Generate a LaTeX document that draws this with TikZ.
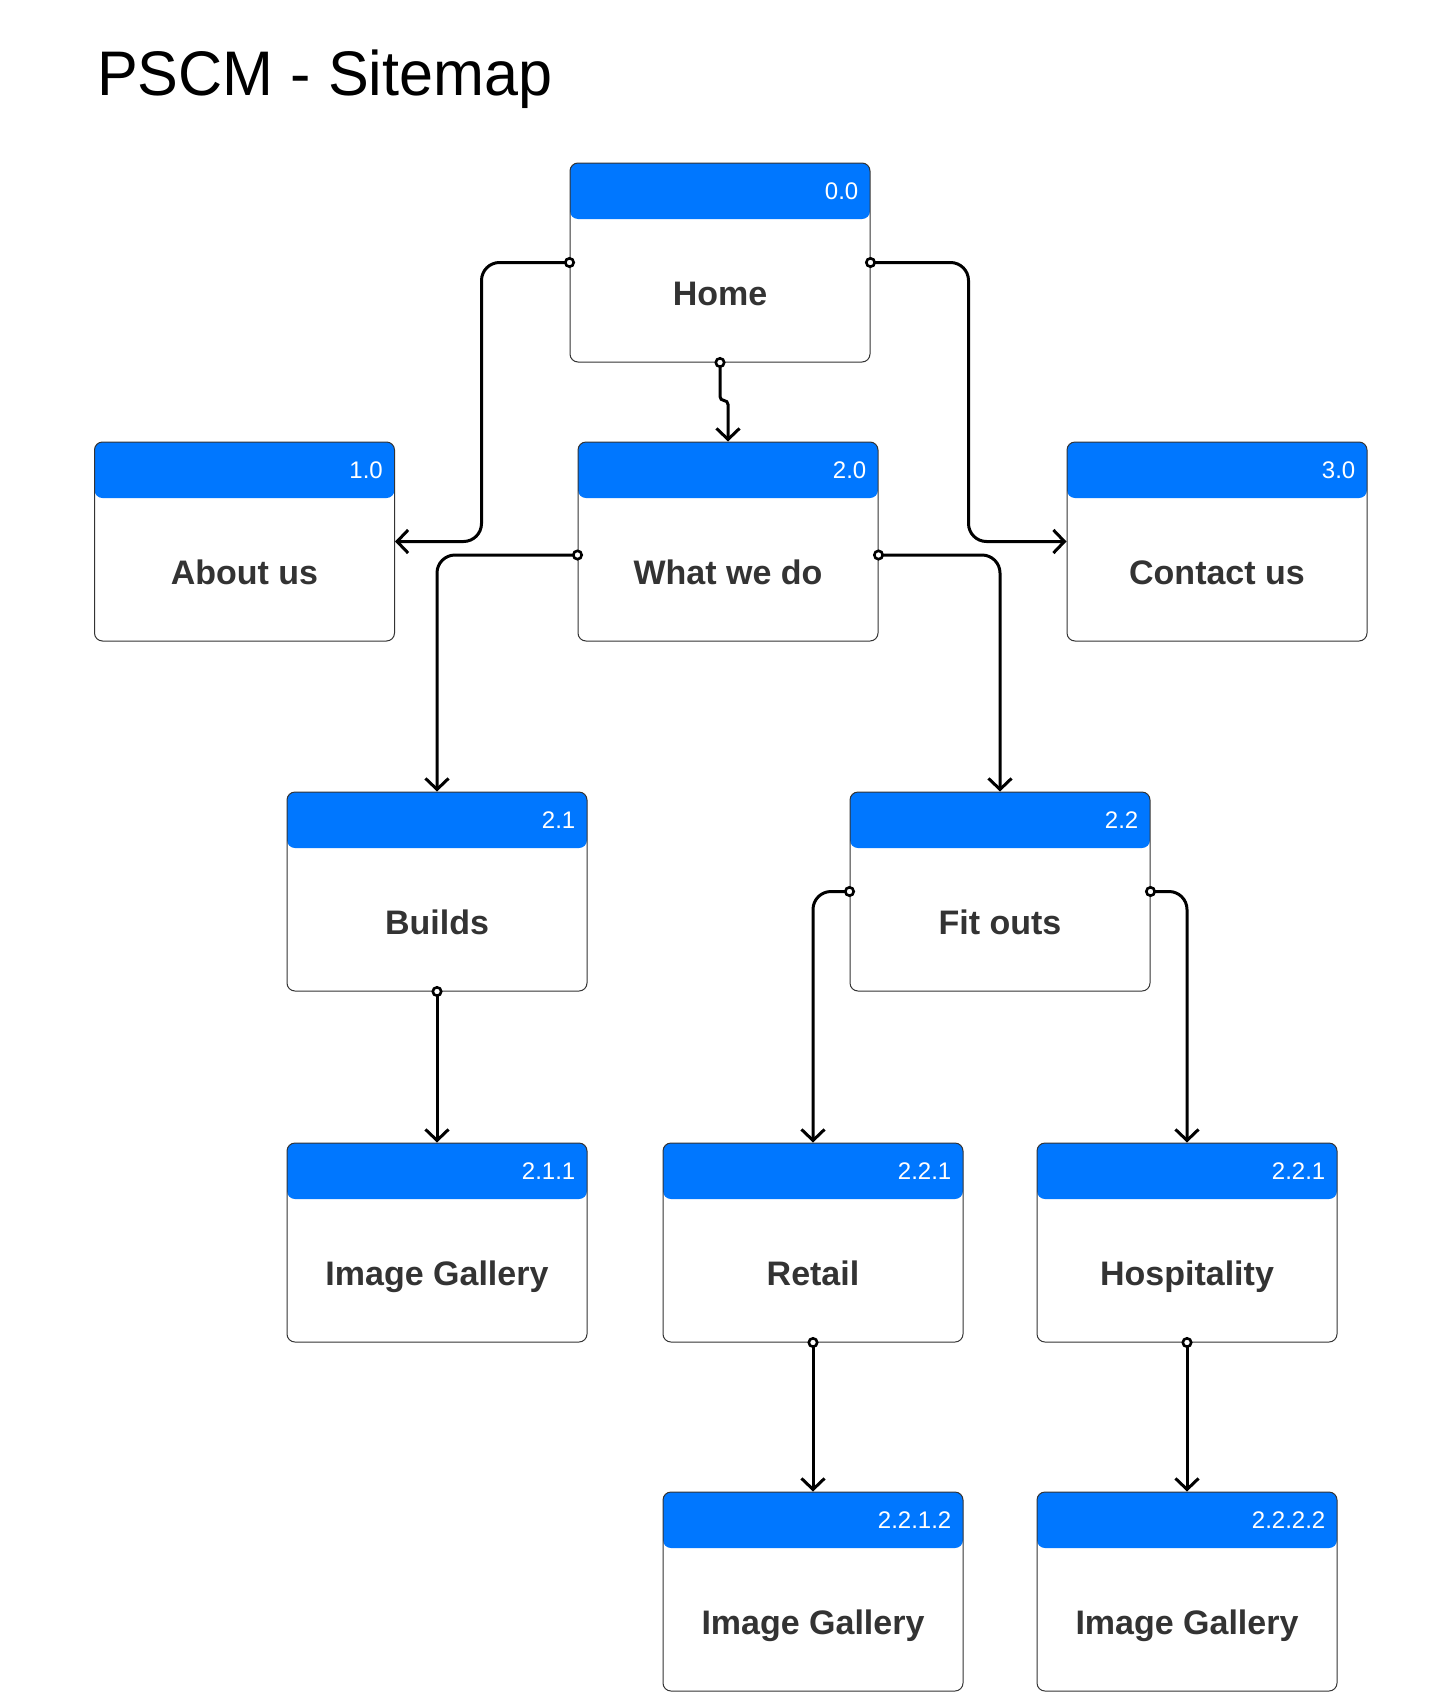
\documentclass[tikz,border=0pt]{standalone}
\usepackage{fontspec}
\setmainfont{Liberation Sans}
\newfontfamily\titlefont[FakeStretch=0.97]{Liberation Sans}
\usetikzlibrary{arrows.meta}
\definecolor{headblue}{RGB}{0,119,255}
\definecolor{inkgray}{RGB}{51,51,51}
\tikzset{
  page/.style={rectangle, draw=inkgray, line width=1pt, rounded corners=8pt,
    minimum width=300pt, minimum height=199pt, inner sep=0pt, text=inkgray,
    font=\fontsize{34}{40}\selectfont\bfseries, text height=85pt, text depth=0pt,
    path picture={\fill[headblue] (path picture bounding box.north west) rectangle ([yshift=-56pt]path picture bounding box.north east);}},
  num/.style={anchor=east, xshift=-12pt, yshift=-28pt, inner sep=0pt, text=white,
    font=\fontsize{24}{28}\selectfont, text height=17pt, text depth=0pt},
  link/.style={line width=3pt, rounded corners=18pt, shorten <=-5.5pt,
    {Circle[fill=white,length=11pt,width=11pt,line width=2.6pt]}-{Straight Barb[length=11pt,width=23pt,line width=3pt]}}
}
\begin{document}
\begin{tikzpicture}[x=1pt,y=-1pt]
\path[fill=white,use as bounding box] (0,0) rectangle (1440,1708);
\node[anchor=base west, inner sep=0pt, font=\titlefont\fontsize{63}{70}\selectfont](title) at (97,95) {PSCM - Sitemap};

\node[page, label={[num]north east:0.0}](0) at (720,262.5) {Home};
\node[page, label={[num]north east:1.0}](1) at (244.5,541.5) {About us};
\node[page, label={[num]north east:2.0}](2) at (728,541.5) {What we do};
\node[page, label={[num]north east:3.0}](3) at (1217,541.5) {Contact us};
\node[page, label={[num]north east:2.1}](21) at (437,891.5) {Builds};
\node[page, label={[num]north east:2.2}](22) at (1000,891.5) {Fit outs};
\node[page, label={[num]north east:2.1.1}](211) at (437,1242.5) {Image Gallery};
\node[page, label={[num]north east:2.2.1}](221) at (813,1242.5) {Retail};
\node[page, label={[num]north east:2.2.1}](222) at (1187,1242.5) {Hospitality};
\node[page, label={[num]north east:2.2.1.2}](2212) at (813,1591.5) {Image Gallery};
\node[page, label={[num]north east:2.2.2.2}](2222) at (1187,1591.5) {Image Gallery};

\draw[link] (0.west) -- ++(-88,0) |- (1.east);
\draw[link] (0.east) -- ++(98,0) |- (3.west);
\draw[link, rounded corners=4pt] (0.south) -- ++(0,38) -| (2.north);
\draw[link] ([yshift=-13.5pt]2.west) -| (21.north);
\draw[link] ([yshift=-13.5pt]2.east) -| (22.north);
\draw[link] (22.west) -| (221.north);
\draw[link] (22.east) -| (222.north);
\draw[link] (21.south) -- (211.north);
\draw[link] (221.south) -- (2212.north);
\draw[link] (222.south) -- (2222.north);
\end{tikzpicture}
\end{document}
